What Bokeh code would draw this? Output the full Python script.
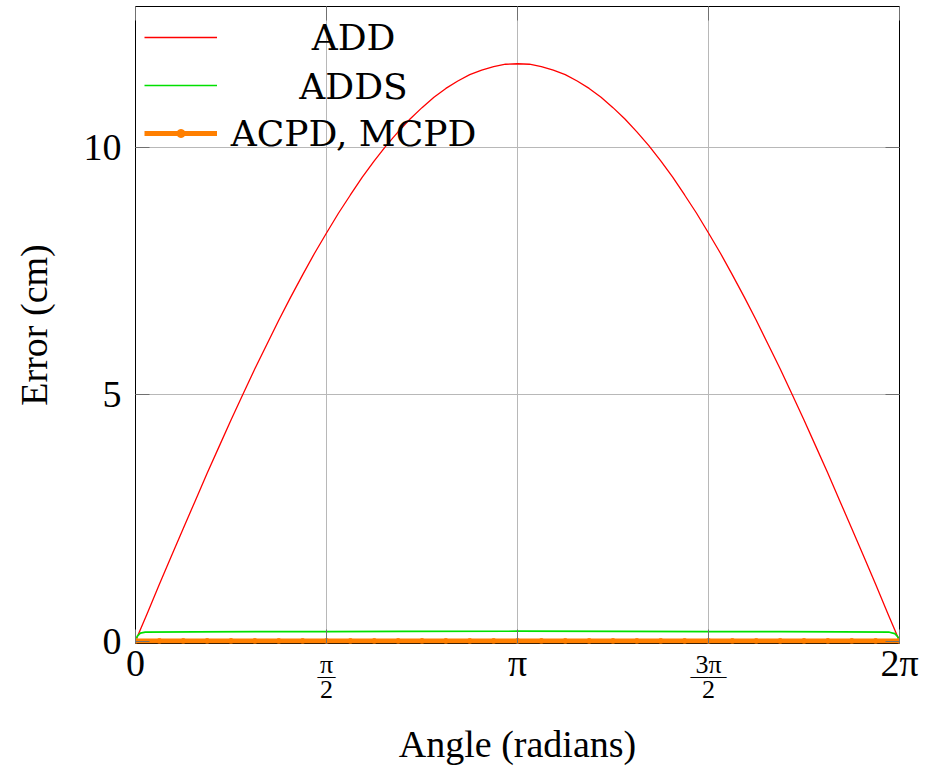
import numpy as np
from bokeh.plotting import figure
from bokeh.models import Range1d, Legend, LegendItem, Label, FixedTicker, LinearAxis
from bokeh.embed import file_html
from bokeh.resources import INLINE

PI = np.pi

# ADD error, sampled every pi/32 from 0 to 2*pi
add_steps = list(range(65))
add_err = [0.00, 0.57, 1.15, 1.72, 2.28, 2.84, 3.40, 3.94, 4.48, 5.00, 5.52,
           6.01, 6.50, 6.97, 7.42, 7.86, 8.27, 8.67, 9.04, 9.40, 9.73, 10.04,
           10.32, 10.58, 10.81, 11.02, 11.20, 11.35, 11.48, 11.57, 11.64, 11.69,
           11.70,
           11.69, 11.64, 11.57, 11.48, 11.35, 11.20, 11.02, 10.81, 10.58, 10.32,
           10.04, 9.73, 9.40, 9.04, 8.67, 8.27, 7.86, 7.42, 6.97, 6.50, 6.01,
           5.52, 5.00, 4.48, 3.94, 3.40, 2.84, 2.28, 1.72, 1.15, 0.57, 0.00]

# ADDS error
adds_angle = [0.0, 0.015, 0.04, 0.08, 0.5, 1.0, 1.5708, 2.2, 3.1416, 4.0, 4.7124,
              5.3, 5.8, 6.2, 6.245, 6.27, 6.2832]
adds_err = [0.00, 0.10, 0.16, 0.18, 0.185, 0.19, 0.19, 0.195, 0.20, 0.195, 0.19,
            0.19, 0.185, 0.18, 0.15, 0.08, 0.00]

# ACPD, MCPD error, sampled every pi/16
cpd_steps = list(range(33))
cpd_err = [0.0, 0.0, 0.0, 0.0, 0.0, 0.0, 0.0, 0.0, 0.0, 0.0, 0.0,
           0.0, 0.0, 0.0, 0.0, 0.0, 0.0, 0.0, 0.0, 0.0, 0.0,
           0.0, 0.0, 0.0, 0.0, 0.0, 0.0, 0.0, 0.0, 0.0, 0.0, 0.0, 0.0]

series_names = ["ADD", "ADDS", "ACPD, MCPD"]
series_colors = ["#ff0000", "#00e000", "#ff7f00"]

x_ticks = [0, PI / 2, PI, 3 * PI / 2, 2 * PI]
whole_ticks = [0, PI, 2 * PI]
whole_labels = {0: "0", PI: "π", 2 * PI: "2π"}
frac_ticks = [PI / 2, 3 * PI / 2]
frac_num = {0: "", PI: "", 2 * PI: "", PI / 2: "π", 3 * PI / 2: "3π"}
frac_bar = {PI / 2: "—", 3 * PI / 2: "——"}
frac_den = {PI / 2: "2", 3 * PI / 2: "2"}
y_ticks = [0, 5, 10]

add_angle = [k * PI / 32 for k in add_steps]
cpd_angle = [k * PI / 16 for k in cpd_steps]

FONT = "Liberation Serif"
LEGEND_FONT = "DejaVu Serif"
TICK_COLOR = "#707070"

p = figure(width=926, height=771, output_backend="svg", toolbar_location=None,
           x_range=Range1d(0, 2 * PI), y_range=Range1d(-0.05, 12.86),
           x_axis_location=None,
           min_border_left=135, min_border_right=27, min_border_top=6,
           min_border_bottom=128)

p.outline_line_color = "black"
p.outline_line_alpha = 1.0
p.outline_line_width = 1


def style_axis(ax, size, standoff, ticks):
    ax.major_label_text_font = FONT
    ax.major_label_text_font_size = size
    ax.major_label_text_color = "black"
    ax.major_label_standoff = standoff
    ax.axis_label_text_font = FONT
    ax.axis_label_text_font_size = "38px"
    ax.axis_label_text_font_style = "normal"
    ax.axis_label_text_color = "black"
    ax.minor_tick_line_color = None
    ax.major_tick_out = 0
    ax.axis_line_color = None
    if ticks:
        ax.major_tick_in = 14
        ax.major_tick_line_color = TICK_COLOR
    else:
        ax.major_tick_in = 0
        ax.major_tick_line_color = None


# x axis built from stacked label rows: numerators (with the tick marks),
# fraction bars, denominators, then the whole-number labels and the title
ax_num = LinearAxis(ticker=FixedTicker(ticks=x_ticks), major_label_overrides=frac_num)
style_axis(ax_num, "26px", 6, True)
ax_bar = LinearAxis(ticker=FixedTicker(ticks=frac_ticks), major_label_overrides=frac_bar)
style_axis(ax_bar, "18px", -16, False)
ax_den = LinearAxis(ticker=FixedTicker(ticks=frac_ticks), major_label_overrides=frac_den)
style_axis(ax_den, "26px", -8, False)
ax_main = LinearAxis(ticker=FixedTicker(ticks=whole_ticks), major_label_overrides=whole_labels,
                     axis_label="Angle (radians)")
style_axis(ax_main, "38px", -59, False)
ax_main.axis_label_standoff = 36
for ax in (ax_num, ax_bar, ax_den, ax_main):
    p.add_layout(ax, "below")

yax = p.yaxis[0]
style_axis(yax, "38px", 14, True)
yax.ticker = FixedTicker(ticks=y_ticks)
yax.axis_label = "Error (cm)"
yax.axis_label_standoff = 26

# mirrored inward ticks on the top and right sides
ax_top = LinearAxis(ticker=FixedTicker(ticks=x_ticks))
style_axis(ax_top, "38px", 0, True)
ax_top.major_label_text_color = None
p.add_layout(ax_top, "above")
ax_right = LinearAxis(ticker=FixedTicker(ticks=y_ticks))
style_axis(ax_right, "38px", 0, True)
ax_right.major_label_text_color = None
p.add_layout(ax_right, "right")

p.xgrid.ticker = FixedTicker(ticks=x_ticks)
p.ygrid.ticker = FixedTicker(ticks=y_ticks)
for g in (p.xgrid[0], p.ygrid[0]):
    g.grid_line_color = "#b8b8b8"
    g.grid_line_width = 1

r_add = p.line(add_angle, add_err, line_color=series_colors[0], line_width=1.3)
r_adds = p.line(adds_angle, adds_err, line_color=series_colors[1], line_width=1.6)
r_cpd = p.line(cpd_angle, cpd_err, line_color=series_colors[2], line_width=5)
r_cpd_m = p.scatter(cpd_angle, cpd_err, size=5, color=series_colors[2])

# legend: glyph samples from Bokeh's Legend, centred texts as labels
legend = Legend(items=[
    LegendItem(label="\u00a0", renderers=[r_add]),
    LegendItem(label="\u00a0", renderers=[r_adds]),
    LegendItem(label="\u00a0", renderers=[r_cpd, r_cpd_m]),
], location="top_left")
legend.background_fill_alpha = 0
legend.border_line_alpha = 0
legend.label_text_font_size = "38px"
legend.label_standoff = 0
legend.glyph_width = 73
legend.glyph_height = 20
legend.label_height = 44
legend.spacing = 4
legend.margin = 0
legend.padding = 9
p.add_layout(legend)

legend_text_y = [606, 557, 510]
for name, ly in zip(series_names, legend_text_y):
    p.add_layout(Label(x=218, y=ly, x_units="screen", y_units="screen", text=name,
                       text_align="center", text_baseline="middle",
                       text_font=LEGEND_FONT, text_font_size="36px", text_color="black"))

open("out.html", "w").write(file_html(p, INLINE))
